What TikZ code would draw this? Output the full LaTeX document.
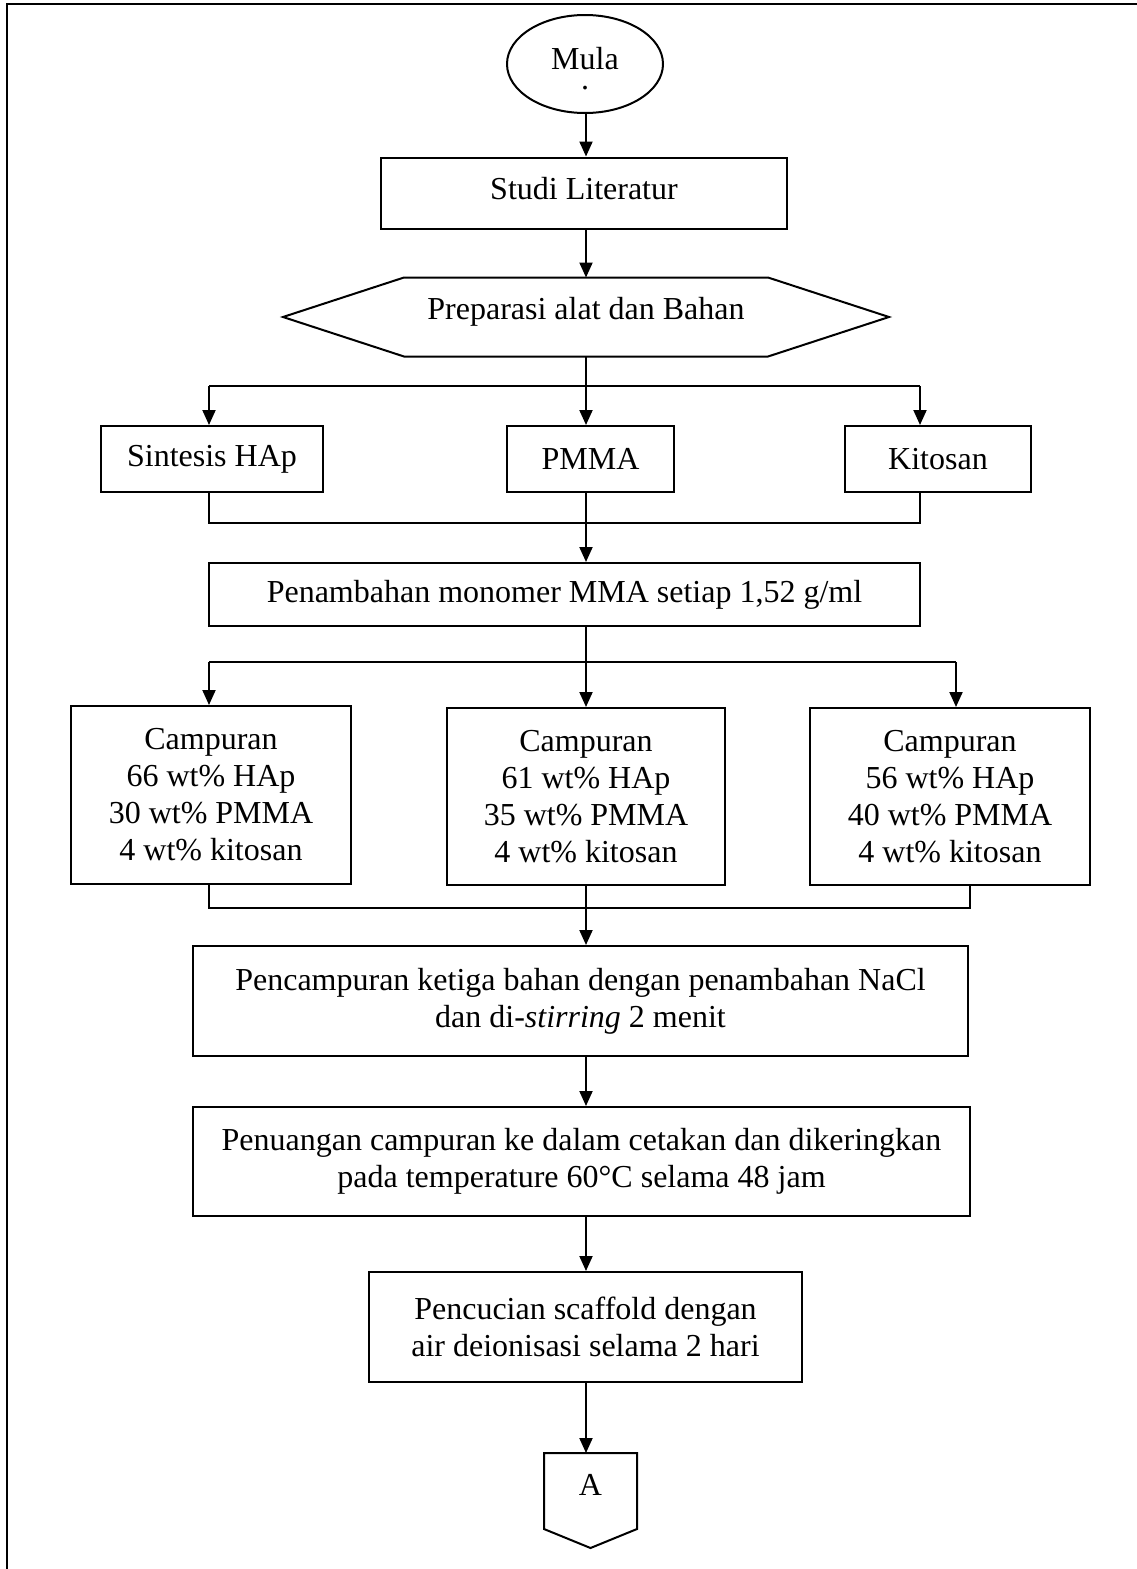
\documentclass[tikz,border=0pt]{standalone}
\usepackage{fontspec}
\setmainfont{Liberation Serif}
\usetikzlibrary{arrows.meta,shapes.geometric,calc}
\begin{document}
\begin{tikzpicture}[x=1pt,y=-1pt,line width=2pt,
  box/.style={draw,rectangle,inner sep=0pt,align=center,font=\fontsize{32}{37}\selectfont},
  txt/.style={inner sep=0pt,align=center,font=\fontsize{32}{37}\selectfont},
  arr/.style={-{Triangle[length=15pt,width=13pt]}}]
\useasboundingbox (0,0) rectangle (1137,1569);
% frame
\draw (7,1569) -- (7,3.5) -- (1137,3.5);
\coordinate (spine) at (586,0);
% start
\node[draw,ellipse,minimum width=156pt,minimum height=98pt,inner sep=0pt] (mula) at (585,64) {};
\node[txt,anchor=north] (mulat) at (585,46) {Mula\\[-17pt].};
% studi
\node[box,minimum width=406pt,minimum height=71pt,text height=22pt,text depth=10pt] (studi) at (584,193) {Studi Literatur};
% hexagon
\node[txt,minimum width=604pt,minimum height=77pt,text height=22pt,text depth=17pt] (prep) at (586,317) {Preparasi alat dan Bahan};
\draw (prep.west) -- ([xshift=121pt]prep.north west) -- ([xshift=-121pt]prep.north east) -- (prep.east)
  -- ([xshift=-121pt]prep.south east) -- ([xshift=121pt]prep.south west) -- cycle;
\draw[arr] (mula.south -| spine) -- (studi.north -| spine);
\draw[arr] (studi.south -| spine) -- (prep.north -| spine);
% three inputs
\node[box,minimum width=222pt,minimum height=66pt] (sint) at (212,459) {Sintesis HAp};
\node[box,minimum width=167pt,minimum height=66pt] (pmma) at (590.5,459) {PMMA};
\node[box,minimum width=186pt,minimum height=66pt] (kit) at (938,459) {Kitosan};
\coordinate (b1L) at (209,386);
\coordinate (b1C) at (586,386);
\coordinate (b1R) at (920,386);
\draw (prep.south -| spine) -- (b1C);
\draw (b1L) -- (b1R);
\draw[arr] (b1L) -- (b1L |- sint.north);
\draw[arr] (b1C) -- (b1C |- pmma.north);
\draw[arr] (b1R) -- (b1R |- kit.north);
% join 2
\node[box,minimum width=711pt,minimum height=63pt] (pen) at (564.5,594.5) {Penambahan monomer MMA setiap 1,52 g/ml};
\coordinate (j2L) at (209,523);
\coordinate (j2C) at (586,523);
\coordinate (j2R) at (920,523);
\draw (sint.south -| j2L) -- (j2L) -- (j2R) -- (kit.south -| j2R);
\draw (pmma.south -| j2C) -- (j2C);
\draw[arr] (j2C) -- (pen.north -| j2C);
% three mixtures
\node[box,minimum width=280pt,minimum height=178pt] (c1) at (211,795) {Campuran\\66 wt\% HAp\\30 wt\% PMMA\\4 wt\% kitosan};
\node[box,minimum width=278pt,minimum height=177pt] (c2) at (586,796.5) {Campuran\\61 wt\% HAp\\35 wt\% PMMA\\4 wt\% kitosan};
\node[box,minimum width=280pt,minimum height=177pt] (c3) at (950,796.5) {Campuran\\56 wt\% HAp\\40 wt\% PMMA\\4 wt\% kitosan};
\coordinate (b3L) at (209,662);
\coordinate (b3C) at (586,662);
\coordinate (b3R) at (956,662);
\draw (pen.south -| spine) -- (b3C);
\draw (b3L) -- (b3R);
\draw[arr] (b3L) -- (b3L |- c1.north);
\draw[arr] (b3C) -- (b3C |- c2.north);
\draw[arr] (b3R) -- (b3R |- c3.north);
% join 4
\node[box,minimum width=775pt,minimum height=110pt] (mix) at (580.5,1001) {Pencampuran ketiga bahan dengan penambahan NaCl\\dan di-\textit{stirring} 2 menit};
\coordinate (j4L) at (209,908);
\coordinate (j4C) at (586,908);
\coordinate (j4R) at (970,908);
\draw (c1.south -| j4L) -- (j4L) -- (j4R) -- (c3.south -| j4R);
\draw (c2.south -| j4C) -- (j4C);
\draw[arr] (j4C) -- (mix.north -| j4C);
% remaining steps
\node[box,minimum width=777pt,minimum height=109pt] (pour) at (581.5,1161.5) {Penuangan campuran ke dalam cetakan dan dikeringkan\\pada temperature 60°C selama 48 jam};
\node[box,minimum width=433pt,minimum height=110pt] (wash) at (585.5,1327) {Pencucian scaffold dengan\\air deionisasi selama 2 hari};
\draw[arr] (mix.south -| spine) -- (pour.north -| spine);
\draw[arr] (pour.south -| spine) -- (wash.north -| spine);
% off-page connector
\node[inner sep=0pt,minimum width=91pt,minimum height=74pt] (conn) at (590.5,1491) {};
\node[txt] (conntext) at (590.5,1485) {A};
\draw (conn.south west) -- (conn.north west) -- (conn.north east) -- (conn.south east) -- ($(conn.south)+(0,19)$) -- cycle;
\draw[arr] (wash.south -| spine) -- (conn.north -| spine);
\end{tikzpicture}
\end{document}
